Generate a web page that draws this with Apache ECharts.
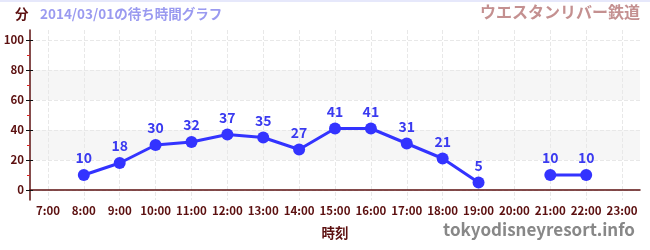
<!DOCTYPE html>
<html><head><meta charset="utf-8">
<script src="https://cdn.jsdelivr.net/npm/echarts@6/dist/echarts.min.js"></script>
<style>html,body{margin:0;padding:0;background:#fff}#c{width:650px;height:250px}</style>
</head><body><div id="c"></div>
<script>
var categories = ['7:00','8:00','9:00','10:00','11:00','12:00','13:00','14:00','15:00','16:00','17:00','18:00','19:00','20:00','21:00','22:00','23:00'];
var waitMinutes = [null,10,18,30,32,37,35,27,41,41,31,21,5,null,10,10,null];
var yMajorTicks = [0,20,40,60,80,100];
var yMinorTicks = [10,30,50,70,90];
var titleText = '2014/03/01の待ち時間グラフ';
var attractionName = 'ウエスタンリバー鉄道';

var FONT = '"Noto Sans CJK JP", "Noto Sans", sans-serif';
var MAROON = '#5c1010';
var YMIN = -6.67, YMAX = 106.67;
var chart = echarts.init(document.getElementById('c'));
function yAx(extra) {
  var base = {type:'value', min:YMIN, max:YMAX, position:'left',
    axisLine:{show:false}, axisLabel:{show:false}, splitLine:{show:false}, axisTick:{show:false}};
  return Object.assign(base, extra);
}
chart.setOption({
  animation:false,
  textStyle:{fontFamily:FONT},
  grid:{left:30, right:10, top:30, bottom:50},
  graphic:[
    {type:'rect', shape:{x:0,y:0,width:650,height:2}, style:{fill:'#e6e8fb'}},
    {type:'text', left:15, top:7, style:{text:'分', font:'bold 13.5px '+FONT, fill:MAROON}},
    {type:'text', left:40, top:7, style:{text:titleText, font:'bold 13.5px '+FONT, fill:'#9a9af0'}},
    {type:'text', right:10, top:4, style:{text:attractionName, font:'bold 16px '+FONT, fill:'#c49090'}},
    {type:'text', right:15, top:221, style:{text:'tokyodisneyresort.info', font:'bold 17px '+FONT, fill:'#888888'}}
  ],
  xAxis:{type:'category', data:categories, boundaryGap:true,
    name:'時刻', nameLocation:'middle', nameGap:26,
    nameTextStyle:{color:MAROON, fontWeight:'bold', fontSize:13.5, fontFamily:FONT},
    axisLine:{lineStyle:{color:MAROON, width:1.5}},
    axisTick:{alignWithLabel:true, inside:true, length:3, lineStyle:{color:'#555'}},
    axisLabel:{color:MAROON, fontWeight:'bold', fontSize:11.5, margin:5, interval:0, fontFamily:FONT},
    splitLine:{show:true, alignWithLabel:true, lineStyle:{color:'#e8e8e8', type:'dashed'}}
  },
  yAxis:[
    yAx({axisLine:{show:true, lineStyle:{color:MAROON, width:1.5}},
      axisTick:{show:true, length:4, customValues:yMajorTicks, lineStyle:{color:'#111'}},
      axisLabel:{show:true, customValues:yMajorTicks, color:MAROON, fontWeight:'bold', fontSize:11.5, margin:6, fontFamily:FONT},
      splitLine:{show:true, lineStyle:{color:'#e8e8e8', type:'dashed'}},
      splitArea:{show:true, areaStyle:{color:['rgba(0,0,0,0)','#f6f6f6']}}
    }),
    yAx({axisTick:{show:true, inside:true, length:3, customValues:yMajorTicks, lineStyle:{color:'#111'}}}),
    yAx({axisTick:{show:true, length:3, customValues:yMinorTicks, lineStyle:{color:'#dd2222'}}})
  ],
  series:[{
    type:'line', data:waitMinutes, yAxisIndex:0, connectNulls:false,
    symbol:'circle', symbolSize:12,
    itemStyle:{color:'#3333ff'},
    lineStyle:{color:'#3333ff', width:3},
    label:{show:true, position:'top', distance:4, color:'#3a3af0', fontWeight:'bold', fontSize:14, fontFamily:FONT}
  }]
});
</script></body></html>
